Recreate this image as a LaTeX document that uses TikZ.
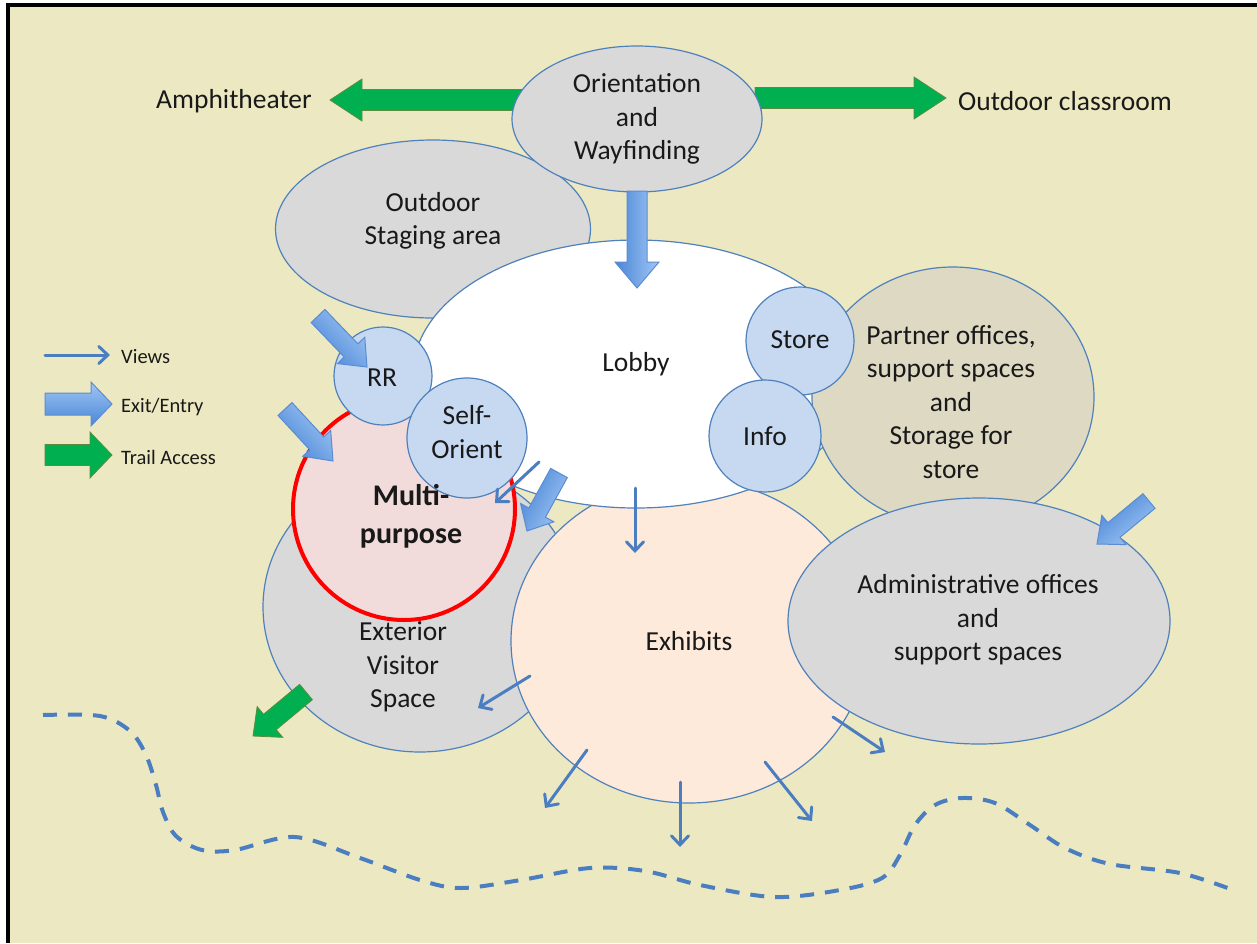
\documentclass[tikz,border=0pt]{standalone}
\usepackage{fontspec}
\setmainfont{Carlito}
\usetikzlibrary{shapes.geometric,arrows.meta,calc}
\definecolor{bg}{RGB}{236,233,194}
\definecolor{edgec}{RGB}{79,129,189}
\definecolor{grayf}{RGB}{217,217,217}
\definecolor{peach}{RGB}{253,234,218}
\definecolor{pinkf}{RGB}{242,220,219}
\definecolor{bluef}{RGB}{198,217,241}
\definecolor{tanf}{RGB}{221,217,195}
\definecolor{trailc}{RGB}{0,176,80}
\definecolor{trailedge}{RGB}{90,140,60}
\definecolor{viewc}{RGB}{74,126,193}
\definecolor{exitlight}{RGB}{160,198,245}
\definecolor{exitdark}{RGB}{74,134,214}
\definecolor{exitedge}{RGB}{91,140,210}
\newcommand{\blkarrow}[6]{%
  \coordinate (hb) at ($(#3)!#6!(#2)$);
  \path[#1] ($(#2)!#4!90:(#3)$) -- ($(hb)!#4!90:(#3)$) -- ($(hb)!#5!90:(#3)$) -- (#3)
    -- ($(hb)!#5!-90:(#3)$) -- ($(hb)!#4!-90:(#3)$) -- ($(#2)!#4!-90:(#3)$) -- cycle;}
\tikzset{
  outl/.style={draw=edgec, line width=1.2pt},
  ell/.style={ellipse, outl, inner sep=0pt},
  circ/.style={circle, outl, inner sep=0pt, fill=bluef},
  txt/.style={font=\fontsize{27.5}{33.5}\selectfont, align=center, inner sep=0pt, text=black!90},
  leg/.style={font=\fontsize{20.5}{24}\selectfont, anchor=west, inner sep=0pt, text=black!90},
  viewarr/.style={draw=viewc, line width=3pt, line cap=round, -{Straight Barb[length=9pt,width=17pt,line cap=round]}},
  exitarr/.style={draw=exitedge, line width=1pt, left color=exitlight, right color=exitdark, shading angle=#1},
  trailarr/.style={draw=trailedge, fill=trailc, line width=0.8pt},
  trail/.style={draw=viewc, line width=4pt, dash pattern=on 14pt off 11pt}
}
\begin{document}
\begin{tikzpicture}[x=1pt,y=-1pt]
\useasboundingbox (0,0) rectangle (1257,943);
\fill[white] (0,0) rectangle (1257,943);
\fill[bg] (10,7) rectangle (1257,943);
\fill[black] (6,3) rectangle (1257,7);
\fill[black] (6,3) rectangle (10,943);

% shapes
\node[ell, fill=grayf, minimum width=315pt, minimum height=178pt] (staging) at (433,229) {};
\coordinate (gl-tail) at (522,100); \coordinate (gl-tip) at (330,100);
\coordinate (gr-tail) at (755,98); \coordinate (gr-tip) at (946,98);
\blkarrow{trailarr}{gl-tail}{gl-tip}{10.5pt}{21pt}{32pt}
\blkarrow{trailarr}{gr-tail}{gr-tip}{10.5pt}{21pt}{32pt}
\node[ell, fill=grayf, minimum width=250pt, minimum height=146pt] (orient) at (637,119) {};
\node[ell, fill=grayf, minimum width=314pt, minimum height=290pt] (exterior) at (420,607) {};
\node[ell, fill=peach, minimum width=356pt, minimum height=324pt] (exhibits) at (689,641) {};
\node[ell, fill=white, minimum width=446pt, minimum height=268pt] (lobby) at (636,374) {};
\node[ell, fill=tanf, minimum width=282pt, minimum height=260pt] (partner) at (953,397) {};
\node[ell, fill=grayf, minimum width=382pt, minimum height=246pt] (admin) at (979,621) {};
\node[circle, draw=red, line width=4pt, fill=pinkf, minimum size=222pt, inner sep=0pt] (multi) at (404,509) {};
\node[circ, minimum size=98pt] (rr) at (383,376) {};
\node[circ, minimum size=120pt] (self) at (467,438) {};
\node[circ, minimum size=108pt] (store) at (800,341) {};
\node[circ, minimum size=112pt] (info) at (765,436) {};

% exit / entry arrows
\coordinate (e1-tail) at (637,191); \coordinate (e1-tip) at (637,288);
\blkarrow{exitarr=-90}{e1-tail}{e1-tip}{10pt}{22pt}{26pt}
\coordinate (e2-tail) at (318,316); \coordinate (e2-tip) at (367,367);
\blkarrow{exitarr=-46}{e2-tail}{e2-tip}{9.5pt}{19pt}{23pt}
\coordinate (e3-tail) at (285,409); \coordinate (e3-tip) at (333,461);
\blkarrow{exitarr=-47}{e3-tail}{e3-tip}{9.5pt}{19pt}{24pt}
\coordinate (e4-tail) at (559,473); \coordinate (e4-tip) at (527,531);
\blkarrow{exitarr=-118}{e4-tail}{e4-tip}{9.5pt}{19pt}{21pt}
\coordinate (e5-tail) at (1149,501); \coordinate (e5-tip) at (1097,544);
\blkarrow{exitarr=-140}{e5-tail}{e5-tip}{9.5pt}{19pt}{22pt}
\coordinate (g3-tail) at (306,692); \coordinate (g3-tip) at (253,736);
\blkarrow{trailarr}{g3-tail}{g3-tip}{10pt}{20pt}{22pt}

% views arrows
\coordinate (v1a) at (539,462); \coordinate (v1b) at (495,503);
\coordinate (v2a) at (635,488); \coordinate (v2b) at (635,553);
\coordinate (v3a) at (530,676); \coordinate (v3b) at (478,708);
\coordinate (v4a) at (587,750); \coordinate (v4b) at (545,808);
\coordinate (v5a) at (680,782); \coordinate (v5b) at (680,847);
\coordinate (v6a) at (765,762); \coordinate (v6b) at (812,821);
\coordinate (v7a) at (833,717); \coordinate (v7b) at (885,752);
\foreach \a/\b in {v1a/v1b, v2a/v2b, v3a/v3b, v4a/v4b, v5a/v5b, v6a/v6b, v7a/v7b}
  \draw[viewarr] (\a) -- (\b);

% trail
\draw[trail] plot[smooth, tension=0.55] coordinates {(43,715) (100,716) (130,731) (146,755) (156,785) (163,812) (176,836) (202,850) (235,850) (295,837) (360,858) (420,880) (461,888) (521,880) (590,868) (645,871) (700,885) (774,897) (840,890) (882,878) (900,855) (915,825) (935,805) (962,798) (995,803) (1030,825) (1065,848) (1110,864) (1180,873) (1233,890)};

% texts
\node[txt] (t-orient) at (637,119) {Orientation\\and\\Wayfinding};
\node[txt] (t-staging) at (433,221) {Outdoor\\Staging area};
\node[txt] (t-lobby) at (636,364) {Lobby};
\node[txt] (t-partner) at (951,402) {Partner offices,\\support spaces\\and\\Storage for\\store};
\node[txt] (t-admin) at (978,620) {Administrative offices\\and\\support spaces};
\node[txt] (t-exh) at (689,641) {Exhibits};
\node[txt] (t-ext) at (403,667) {Exterior\\Visitor\\Space};
\node[txt] (t-rr) at (382,378) {RR};
\node[txt] (t-self) at (467,432) {Self-\\Orient};
\node[txt] (t-store) at (800,340) {Store};
\node[txt] (t-info) at (765,436) {Info};
\node[txt, font=\fontsize{30}{38}\selectfont\bfseries] (t-multi) at (411,516) {Multi-\\purpose};
\node[txt, anchor=west] (t-amph) at (156,101) {Amphitheater};
\node[txt, anchor=west] (t-class) at (958,101) {Outdoor classroom};

% legend
\coordinate (lv-tail) at (45,355); \coordinate (lv-tip) at (110,355);
\draw[viewarr] (lv-tail) -- (lv-tip);
\coordinate (le-tail) at (45,404); \coordinate (le-tip) at (112,404);
\blkarrow{exitarr=0}{le-tail}{le-tip}{11pt}{22pt}{21pt}
\coordinate (lg-tail) at (45,455); \coordinate (lg-tip) at (112,455);
\blkarrow{trailarr}{lg-tail}{lg-tip}{10.5pt}{23pt}{22pt}
\node[leg] (l-views) at (121,357) {Views};
\node[leg] (l-exit) at (121,407) {Exit/Entry};
\node[leg] (l-trail) at (121,457) {Trail Access};
\end{tikzpicture}
\end{document}
